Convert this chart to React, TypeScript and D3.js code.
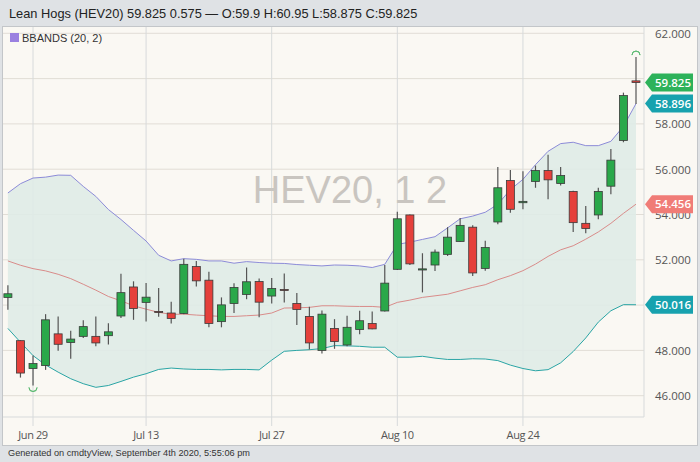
import React from 'react';
import * as d3 from 'd3';

if (typeof document !== 'undefined') {
  document.body.style.margin = '0';
}

const dates = ['Jun 25','Jun 26','Jun 29','Jun 30','Jul 1','Jul 2','Jul 6','Jul 7','Jul 8','Jul 9','Jul 10','Jul 13','Jul 14','Jul 15','Jul 16','Jul 17','Jul 20','Jul 21','Jul 22','Jul 23','Jul 24','Jul 27','Jul 28','Jul 29','Jul 30','Jul 31','Aug 3','Aug 4','Aug 5','Aug 6','Aug 7','Aug 10','Aug 11','Aug 12','Aug 13','Aug 14','Aug 17','Aug 18','Aug 19','Aug 20','Aug 21','Aug 24','Aug 25','Aug 26','Aug 27','Aug 28','Aug 31','Sep 1','Sep 2','Sep 3','Sep 4'];
const opens = [50.34,48.43,47.2,47.33,48.73,48.35,48.62,48.62,48.65,49.52,50.8,50.12,49.72,49.65,49.63,51.7,51.1,49.27,50.07,50.47,51.04,50.4,50.69,50.07,49.5,48.0,48.97,48.24,48.92,49.19,49.74,51.58,53.98,51.55,51.77,52.24,52.81,53.44,51.62,53.67,55.5,54.52,55.46,55.94,55.37,55.02,53.61,53.98,55.25,57.27,59.9];
const highs = [50.88,48.45,47.77,49.6,49.5,48.87,49.33,49.5,49.2,51.38,51.05,50.98,50.75,50.15,52.05,51.95,51.47,50.34,50.97,51.66,51.17,51.2,51.39,50.53,49.93,49.76,49.38,49.53,49.75,49.72,51.77,54.12,54.0,52.29,52.46,53.44,53.85,53.52,52.84,56.1,55.96,55.91,56.16,56.64,56.1,55.05,54.37,55.18,56.89,59.38,60.95];
const lows = [49.79,46.8,46.45,47.14,47.98,47.63,48.55,48.18,48.26,49.43,49.35,49.28,49.49,49.19,49.6,50.82,49.02,49.02,49.65,50.26,49.46,50.07,50.12,49.12,48.04,47.86,48.07,48.18,48.71,48.93,49.72,51.55,51.77,50.56,51.51,52.17,52.8,51.29,51.52,53.57,54.08,54.23,55.18,54.67,55.28,53.23,53.17,53.79,54.89,57.19,58.875];
const closes = [50.5,47.0,47.42,49.35,48.27,48.5,49.05,48.33,48.82,50.55,49.85,50.35,49.68,49.41,51.8,51.07,49.19,50.01,50.78,51.03,50.13,50.73,50.65,49.81,48.33,49.6,48.39,49.02,49.31,48.95,50.97,53.81,51.82,51.6,52.34,53.0,53.52,51.42,52.54,55.18,54.23,54.58,55.94,55.53,55.72,53.64,53.38,55.02,56.4,59.25,59.825];
const upperBand = [54.95,55.36,55.61,55.65,55.74,55.73,55.24,54.8,54.22,53.78,53.3,52.83,52.2,51.95,52.05,52.02,51.95,51.95,51.85,51.92,51.88,51.85,51.84,51.79,51.76,51.73,51.77,51.76,51.73,51.66,51.8,52.68,52.78,52.9,53.02,53.41,53.81,53.93,54.1,54.45,55.1,55.55,56.2,56.79,57.13,57.19,57.04,57.04,57.23,57.89,58.896];
const middleBand = [51.95,51.76,51.61,51.51,51.36,51.17,50.92,50.66,50.38,50.19,49.97,49.82,49.68,49.59,49.6,49.56,49.53,49.5,49.5,49.53,49.56,49.65,49.87,49.88,49.9,49.97,49.97,49.95,49.94,49.94,49.9,50.12,50.22,50.34,50.41,50.48,50.63,50.78,50.9,51.12,51.3,51.52,51.81,52.15,52.44,52.62,52.91,53.23,53.61,54.05,54.456];
const lowerBand = [48.97,48.36,47.77,47.36,47.04,46.75,46.53,46.37,46.45,46.63,46.82,46.97,47.16,47.22,47.18,47.16,47.16,47.14,47.16,47.16,47.14,47.57,47.96,48.0,48.03,48.08,48.21,48.2,48.18,48.14,48.14,47.7,47.7,47.74,47.66,47.6,47.6,47.63,47.62,47.55,47.35,47.2,47.1,47.15,47.45,47.95,48.55,49.25,49.75,50.02,50.016];
const yTicks = [46, 48, 50, 52, 54, 56, 58, 60, 62];
const xTickDates = ['Jun 29', 'Jul 13', 'Jul 27', 'Aug 10', 'Aug 24'];

const W = 700, H = 462;
const PL = 3, PR = 644, PT = 27, PB = 417;
const GREEN = '#2aa84a', RED = '#e5403b', OUTLINE = '#3a3a3a';

export default function App() {
  const x = d3.scalePoint<string>().domain(dates).range([7.9, 636]);
  const y = d3.scaleLinear().domain([46, 62]).range([395.7, 33.3]);
  const idx = d3.range(dates.length);

  const area = d3.area<number>()
    .x(i => x(dates[i]) as number)
    .y0(i => y(lowerBand[i]))
    .y1(i => y(upperBand[i]));
  const line = (arr: number[]) => d3.line<number>().x(i => x(dates[i]) as number).y(i => y(arr[i]))(idx) as string;

  const last = dates.length - 1;
  const tags = [
    { v: closes[last], c: '#2db25a' },
    { v: upperBand[last], c: '#17a2ae' },
    { v: middleBand[last], c: '#f07c77' },
    { v: lowerBand[last], c: '#17a2ae' },
  ];
  const visibleTicks = yTicks.filter(t => !tags.some(tg => Math.abs(y(tg.v) - y(t)) < 8));
  const hiIdx = d3.maxIndex(highs);
  const loIdx = d3.minIndex(lows);
  const bw = 8;

  return (
    <svg width={W} height={H} style={{ display: 'block' }} xmlns="http://www.w3.org/2000/svg">
      <defs>
        <clipPath id="plotclip"><rect x={PL} y={PT} width={PR - PL} height={PB - PT} /></clipPath>
      </defs>
      <rect x={0} y={0} width={W} height={H} fill="#dfe2e5" />
      <text x={9} y={18} fontFamily="Liberation Sans, Arial, sans-serif" fontSize={12.8} fill="#222">
        Lean Hogs (HEV20) 59.825 0.575 — O:59.9 H:60.95 L:58.875 C:59.825
      </text>
      <rect x={2.5} y={26.5} width={695} height={419} fill="#faf8f3" stroke="#c3c6c9" />
      {yTicks.map(t => (
        <line key={'h' + t} x1={PL} x2={PR} y1={y(t)} y2={y(t)} stroke="#e1ddd6" strokeWidth={1} />
      ))}
      {xTickDates.map(d => (
        <line key={'v' + d} x1={x(d)} x2={x(d)} y1={PT} y2={426} stroke="#d7dadb" strokeWidth={1} />
      ))}
      <line x1={PR} x2={PR} y1={PT} y2={PB} stroke="#d7dadb" />
      <line x1={PL} x2={PR} y1={PB} y2={PB} stroke="#d7dadb" />
      <text x={350} y={203} textAnchor="middle" fontFamily="Liberation Sans, Arial, sans-serif" fontSize={38} fill="#c9c5c0">HEV20, 1 2</text>
      <g clipPath="url(#plotclip)">
        <path d={area(idx) as string} fill="#dfebe7" opacity={0.9} />
        <path d={line(upperBand)} fill="none" stroke="#8c8bd8" strokeWidth={1} />
        <path d={line(middleBand)} fill="none" stroke="#d98c8a" strokeWidth={1} />
        <path d={line(lowerBand)} fill="none" stroke="#2aa5a5" strokeWidth={1} />
        {idx.map(i => {
          const cx = x(dates[i]) as number;
          const up = closes[i] >= opens[i];
          const top = y(Math.max(opens[i], closes[i]));
          const bot = y(Math.min(opens[i], closes[i]));
          return (
            <g key={i}>
              <line x1={cx} x2={cx} y1={y(highs[i])} y2={y(lows[i])} stroke="#555" strokeWidth={1.2} />
              <rect x={cx - bw / 2} y={top} width={bw} height={Math.max(1, bot - top)} fill={up ? GREEN : RED} stroke={OUTLINE} strokeWidth={0.8} />
            </g>
          );
        })}
        <path d={d3.arc()({ innerRadius: 4, outerRadius: 4, startAngle: -Math.PI / 2, endAngle: Math.PI / 2 }) as string}
          transform={`translate(${x(dates[hiIdx])},${y(highs[hiIdx]) - 2})`} fill="none" stroke="#5dbb73" strokeWidth={1} />
        <path d={d3.arc()({ innerRadius: 4, outerRadius: 4, startAngle: Math.PI / 2, endAngle: Math.PI * 1.5 }) as string}
          transform={`translate(${x(dates[loIdx])},${y(lows[loIdx]) + 2})`} fill="none" stroke="#5dbb73" strokeWidth={1} />
      </g>
      <rect x={10} y={33} width={9} height={9} fill="#9a80e0" />
      <text x={22} y={41.5} fontFamily="Liberation Sans, Arial, sans-serif" fontSize={11} fill="#333">BBANDS (20, 2)</text>
      {visibleTicks.map(t => (
        <text key={'yl' + t} x={655} y={y(t) + 4.5} fontFamily="Open Sans, sans-serif" fontSize={11.5} fill="#555">{t.toFixed(3)}</text>
      ))}
      {xTickDates.map(d => (
        <text key={'xl' + d} x={x(d)} y={439} textAnchor="middle" fontFamily="Open Sans, sans-serif" fontSize={11} letterSpacing={-0.4} fill="#555">{d}</text>
      ))}
      {tags.map((t, k) => {
        const cy = y(t.v);
        const d = `M645,${cy} L652,${cy - 9} L693,${cy - 9} L693,${cy + 9} L652,${cy + 9} Z`;
        return (
          <g key={'tag' + k}>
            <path d={d} fill={t.c} />
            <text x={673} y={cy + 4.2} textAnchor="middle" fontFamily="Open Sans, sans-serif" fontWeight={600} fontSize={11.5} fill="#fff">{t.v.toFixed(3)}</text>
          </g>
        );
      })}
      <text x={8} y={456} fontFamily="Liberation Sans, Arial, sans-serif" fontSize={9.2} fill="#333">Generated on cmdtyView, September 4th 2020, 5:55:06 pm</text>
    </svg>
  );
}
